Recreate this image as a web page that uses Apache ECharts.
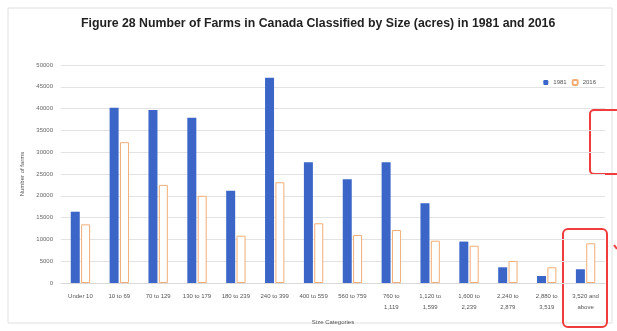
<!DOCTYPE html>
<html><head><meta charset="utf-8">
<script src="https://cdn.jsdelivr.net/npm/echarts@6/dist/echarts.min.js"></script>
<style>html,body{margin:0;padding:0;background:#fff}#c{width:617px;height:331px}</style>
</head><body><div id="c"></div>
<script>
const categories = ["Under 10","10 to 69","70 to 129","130 to 179","180 to 239","240 to 399","400 to 559","560 to 759","760 to\n1,119","1,120 to\n1,599","1,600 to\n2,239","2,240 to\n2,879","2,880 to\n3,519","3,520 and\nabove"];
const farms1981 = [16350,40200,39700,37900,21150,47100,27700,23800,27700,18300,9500,3600,1600,3150];
const farms2016 = [13450,32300,22500,20000,10850,23100,13700,11000,12150,9700,8550,5050,3600,9100];
const yTicks = [0,5000,10000,15000,20000,25000,30000,35000,40000,45000,50000];

const chart = echarts.init(document.getElementById('c'), null, {renderer:'canvas'});
const font = 'Liberation Sans, Arial, sans-serif';
chart.setOption({
  animation:false,
  textStyle:{fontFamily:font},
  title:{text:'Figure 28 Number of Farms in Canada Classified by Size (acres) in 1981 and 2016',
    left:76, top:13, textStyle:{fontSize:12.3, fontWeight:'bold', color:'#222', fontFamily:font}},
  legend:{data:['1981','2016'], right:16, top:74, itemWidth:5, itemHeight:5, itemGap:5,
    textStyle:{fontSize:6, color:'#555'}},
  grid:{left:61, right:12, top:65, bottom:48},
  xAxis:{type:'category', data:categories, name:'Size Categories', nameLocation:'middle', nameGap:36,
    nameTextStyle:{fontSize:6, color:'#555'},
    axisLine:{lineStyle:{color:'#d9d9d9'}}, axisTick:{show:false},
    axisLabel:{fontSize:6, color:'#555', interval:0, margin:8, lineHeight:11}},
  yAxis:{type:'value', min:yTicks[0], max:yTicks[yTicks.length-1], interval:yTicks[1]-yTicks[0],
    name:'Number of farms', nameLocation:'middle', nameGap:34, nameTextStyle:{fontSize:6,color:'#555'},
    axisLine:{show:false}, axisTick:{show:false},
    axisLabel:{fontSize:6, color:'#666', margin:8, formatter:v=>String(v)},
    splitLine:{lineStyle:{color:'#e3e3e3'}}},
  series:[
    {name:'1981', type:'bar', data:farms1981, barWidth:9, barGap:'15%',
      itemStyle:{color:'#3b66c8'}},
    {name:'2016', type:'bar', data:farms2016, barWidth:9,
      itemStyle:{color:'#ffffff', borderColor:'#f2ad75', borderWidth:1}}
  ],
  graphic:[
    {type:'rect', shape:{x:8,y:8,width:604,height:315}, style:{fill:'none', stroke:'#e0e0e0', lineWidth:1}, z:-1},
    {type:'rect', shape:{x:563,y:229,width:44,height:98,r:5}, style:{fill:'none', stroke:'#f03c3c', lineWidth:2}},
    {type:'rect', shape:{x:590,y:110,width:40,height:64,r:4}, style:{fill:'none', stroke:'#f03c3c', lineWidth:2}},
    {type:'line', shape:{x1:614,y1:245,x2:617,y2:249}, style:{stroke:'#f03c3c', lineWidth:2}}
  ]
});
</script></body></html>
